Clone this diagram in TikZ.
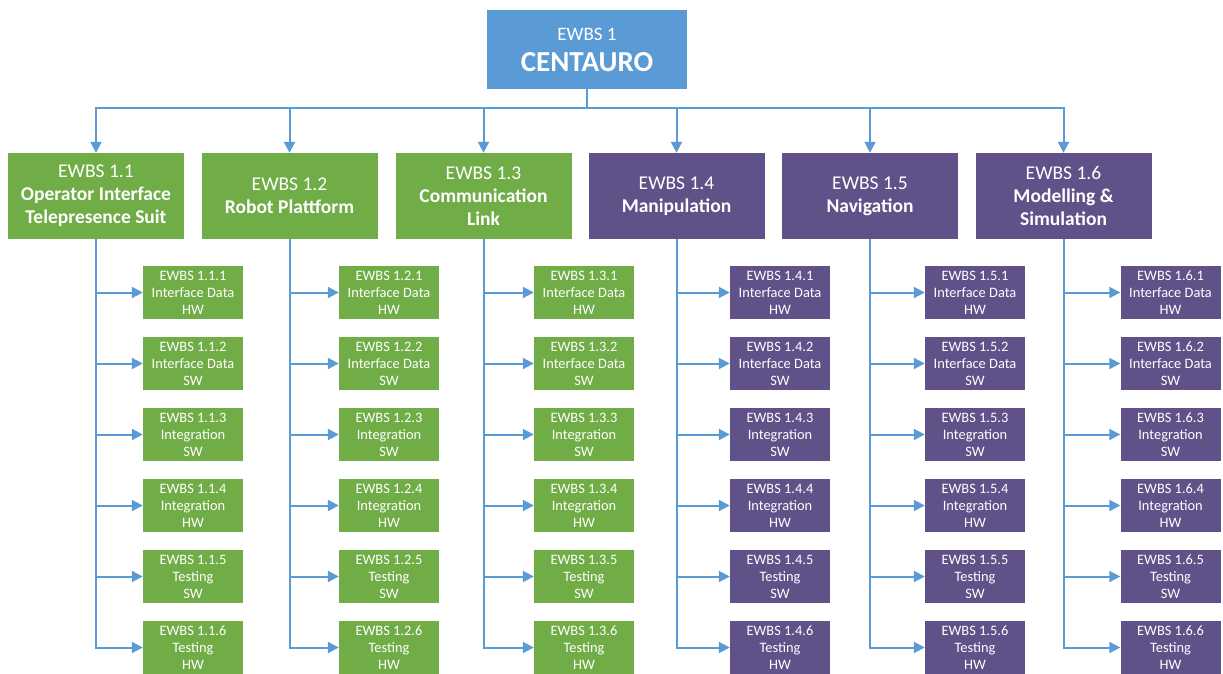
\documentclass[tikz,border=0pt]{standalone}
\usepackage{fontspec}
\setmainfont{Carlito}
\usetikzlibrary{arrows.meta}

\definecolor{ewbsblue}{HTML}{5B9BD5}
\definecolor{ewbsgreen}{HTML}{70AD47}
\definecolor{ewbspurple}{RGB}{96,81,136}

\begin{document}
\begin{tikzpicture}[
    x=1pt, y=-1pt,
    every node/.style={text=white, align=center, inner sep=0pt},
    rootbox/.style={fill=ewbsblue, minimum width=200pt, minimum height=79pt, font=\fontsize{19}{31}\selectfont},
    mainbox/.style={minimum width=176pt, minimum height=86pt, font=\fontsize{19.5}{23}\selectfont},
    leafbox/.style={minimum width=100pt, minimum height=53pt, font=\fontsize{14.4}{17}\selectfont},
    link/.style={ewbsblue, line width=2pt, -{Triangle[length=11pt, width=11pt]}}
]
% Set manual bounding box
\useasboundingbox (0,0) rectangle (1223,673);

% Root
\node[rootbox] (centauro) at (587,49.5) {EWBS 1\\\fontsize{29}{31}\selectfont\bfseries CENTAURO};
\coordinate (bus) at (587,108);

% Second level
\node[mainbox, fill=ewbsgreen] (op) at (96,196) {EWBS 1.1\\\bfseries Operator Interface\\\bfseries Telepresence Suit};
\node[mainbox, fill=ewbsgreen] (robot) at (289.5,196) {EWBS 1.2\\\bfseries Robot Plattform};
\node[mainbox, fill=ewbsgreen] (comm) at (483.5,196) {EWBS 1.3\\\bfseries Communication\\\bfseries Link};
\node[mainbox, fill=ewbspurple] (manip) at (676.5,196) {EWBS 1.4\\\bfseries Manipulation};
\node[mainbox, fill=ewbspurple] (nav) at (870,196) {EWBS 1.5\\\bfseries Navigation};
\node[mainbox, fill=ewbspurple] (sim) at (1063.5,196) {EWBS 1.6\\\bfseries Modelling \&\\\bfseries Simulation};

% Leaves 1.1
\node[leafbox, fill=ewbsgreen] (op1) at (193,292.5) {EWBS 1.1.1\\Interface Data\\HW};
\node[leafbox, fill=ewbsgreen] (op2) at (193,363.5) {EWBS 1.1.2\\Interface Data\\SW};
\node[leafbox, fill=ewbsgreen] (op3) at (193,434.5) {EWBS 1.1.3\\Integration\\SW};
\node[leafbox, fill=ewbsgreen] (op4) at (193,505.5) {EWBS 1.1.4\\Integration\\HW};
\node[leafbox, fill=ewbsgreen] (op5) at (193,576.5) {EWBS 1.1.5\\Testing\\SW};
\node[leafbox, fill=ewbsgreen] (op6) at (193,647.5) {EWBS 1.1.6\\Testing\\HW};

% Leaves 1.2
\node[leafbox, fill=ewbsgreen] (robot1) at (389,292.5) {EWBS 1.2.1\\Interface Data\\HW};
\node[leafbox, fill=ewbsgreen] (robot2) at (389,363.5) {EWBS 1.2.2\\Interface Data\\SW};
\node[leafbox, fill=ewbsgreen] (robot3) at (389,434.5) {EWBS 1.2.3\\Integration\\SW};
\node[leafbox, fill=ewbsgreen] (robot4) at (389,505.5) {EWBS 1.2.4\\Integration\\HW};
\node[leafbox, fill=ewbsgreen] (robot5) at (389,576.5) {EWBS 1.2.5\\Testing\\SW};
\node[leafbox, fill=ewbsgreen] (robot6) at (389,647.5) {EWBS 1.2.6\\Testing\\HW};

% Leaves 1.3
\node[leafbox, fill=ewbsgreen] (comm1) at (584,292.5) {EWBS 1.3.1\\Interface Data\\HW};
\node[leafbox, fill=ewbsgreen] (comm2) at (584,363.5) {EWBS 1.3.2\\Interface Data\\SW};
\node[leafbox, fill=ewbsgreen] (comm3) at (584,434.5) {EWBS 1.3.3\\Integration\\SW};
\node[leafbox, fill=ewbsgreen] (comm4) at (584,505.5) {EWBS 1.3.4\\Integration\\HW};
\node[leafbox, fill=ewbsgreen] (comm5) at (584,576.5) {EWBS 1.3.5\\Testing\\SW};
\node[leafbox, fill=ewbsgreen] (comm6) at (584,647.5) {EWBS 1.3.6\\Testing\\HW};

% Leaves 1.4
\node[leafbox, fill=ewbspurple] (manip1) at (780,292.5) {EWBS 1.4.1\\Interface Data\\HW};
\node[leafbox, fill=ewbspurple] (manip2) at (780,363.5) {EWBS 1.4.2\\Interface Data\\SW};
\node[leafbox, fill=ewbspurple] (manip3) at (780,434.5) {EWBS 1.4.3\\Integration\\SW};
\node[leafbox, fill=ewbspurple] (manip4) at (780,505.5) {EWBS 1.4.4\\Integration\\HW};
\node[leafbox, fill=ewbspurple] (manip5) at (780,576.5) {EWBS 1.4.5\\Testing\\SW};
\node[leafbox, fill=ewbspurple] (manip6) at (780,647.5) {EWBS 1.4.6\\Testing\\HW};

% Leaves 1.5
\node[leafbox, fill=ewbspurple] (nav1) at (975,292.5) {EWBS 1.5.1\\Interface Data\\HW};
\node[leafbox, fill=ewbspurple] (nav2) at (975,363.5) {EWBS 1.5.2\\Interface Data\\SW};
\node[leafbox, fill=ewbspurple] (nav3) at (975,434.5) {EWBS 1.5.3\\Integration\\SW};
\node[leafbox, fill=ewbspurple] (nav4) at (975,505.5) {EWBS 1.5.4\\Integration\\HW};
\node[leafbox, fill=ewbspurple] (nav5) at (975,576.5) {EWBS 1.5.5\\Testing\\SW};
\node[leafbox, fill=ewbspurple] (nav6) at (975,647.5) {EWBS 1.5.6\\Testing\\HW};

% Leaves 1.6
\node[leafbox, fill=ewbspurple] (sim1) at (1170.5,292.5) {EWBS 1.6.1\\Interface Data\\HW};
\node[leafbox, fill=ewbspurple] (sim2) at (1170.5,363.5) {EWBS 1.6.2\\Interface Data\\SW};
\node[leafbox, fill=ewbspurple] (sim3) at (1170.5,434.5) {EWBS 1.6.3\\Integration\\SW};
\node[leafbox, fill=ewbspurple] (sim4) at (1170.5,505.5) {EWBS 1.6.4\\Integration\\HW};
\node[leafbox, fill=ewbspurple] (sim5) at (1170.5,576.5) {EWBS 1.6.5\\Testing\\SW};
\node[leafbox, fill=ewbspurple] (sim6) at (1170.5,647.5) {EWBS 1.6.6\\Testing\\HW};

% Connections from the root
\draw[link] (centauro.south) -- (bus) -| (op.north);
\draw[link] (bus) -| (robot.north);
\draw[link] (bus) -| (comm.north);
\draw[link] (bus) -| (manip.north);
\draw[link] (bus) -| (nav.north);
\draw[link] (bus) -| (sim.north);

% Connections to the leaves
\draw[link] (op.south) |- (op1.west);
\draw[link] (op.south) |- (op2.west);
\draw[link] (op.south) |- (op3.west);
\draw[link] (op.south) |- (op4.west);
\draw[link] (op.south) |- (op5.west);
\draw[link] (op.south) |- (op6.west);

\draw[link] (robot.south) |- (robot1.west);
\draw[link] (robot.south) |- (robot2.west);
\draw[link] (robot.south) |- (robot3.west);
\draw[link] (robot.south) |- (robot4.west);
\draw[link] (robot.south) |- (robot5.west);
\draw[link] (robot.south) |- (robot6.west);

\draw[link] (comm.south) |- (comm1.west);
\draw[link] (comm.south) |- (comm2.west);
\draw[link] (comm.south) |- (comm3.west);
\draw[link] (comm.south) |- (comm4.west);
\draw[link] (comm.south) |- (comm5.west);
\draw[link] (comm.south) |- (comm6.west);

\draw[link] (manip.south) |- (manip1.west);
\draw[link] (manip.south) |- (manip2.west);
\draw[link] (manip.south) |- (manip3.west);
\draw[link] (manip.south) |- (manip4.west);
\draw[link] (manip.south) |- (manip5.west);
\draw[link] (manip.south) |- (manip6.west);

\draw[link] (nav.south) |- (nav1.west);
\draw[link] (nav.south) |- (nav2.west);
\draw[link] (nav.south) |- (nav3.west);
\draw[link] (nav.south) |- (nav4.west);
\draw[link] (nav.south) |- (nav5.west);
\draw[link] (nav.south) |- (nav6.west);

\draw[link] (sim.south) |- (sim1.west);
\draw[link] (sim.south) |- (sim2.west);
\draw[link] (sim.south) |- (sim3.west);
\draw[link] (sim.south) |- (sim4.west);
\draw[link] (sim.south) |- (sim5.west);
\draw[link] (sim.south) |- (sim6.west);

\end{tikzpicture}
\end{document}
